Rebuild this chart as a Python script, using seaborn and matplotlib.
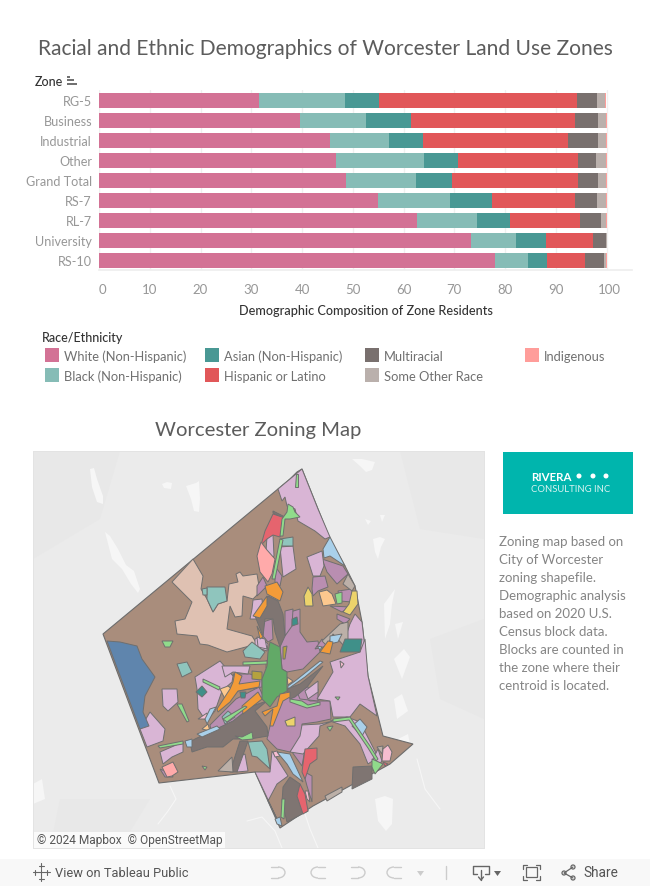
import numpy as np
import pandas as pd
import matplotlib
matplotlib.use("Agg")
import matplotlib.pyplot as plt
from matplotlib.patches import Rectangle, Circle, Arc
from matplotlib.transforms import ScaledTranslation
import seaborn as sns

# chart data, percent of residents
zones = ["RG-5", "Business", "Industrial", "Other", "Grand Total", "RS-7", "RL-7", "University", "RS-10"]
races = ["White (Non-Hispanic)", "Black (Non-Hispanic)", "Asian (Non-Hispanic)", "Hispanic or Latino",
         "Multiracial", "Some Other Race", "Indigenous"]
white = [31.6, 39.6, 45.6, 46.7, 48.7, 55.0, 62.7, 73.2, 78.1]
black = [16.9, 12.9, 11.6, 17.4, 13.8, 14.2, 11.7, 9.0, 6.5]
asian = [6.7, 9.0, 6.7, 6.7, 7.1, 8.3, 6.5, 5.8, 3.6]
hispanic = [38.9, 32.2, 28.4, 23.5, 24.7, 16.2, 13.8, 9.4, 7.5]
multiracial = [4.1, 4.7, 6.1, 3.7, 4.1, 4.5, 4.1, 2.4, 3.7]
some_other = [1.4, 1.4, 1.4, 1.8, 1.5, 1.6, 1.1, 0.2, 0.5]
indigenous = [0.2, 0.2, 0.2, 0.2, 0.1, 0.2, 0.1, 0.0, 0.1]
palette = ["#d37295", "#86bcb6", "#499894", "#e15759", "#79706e", "#bab0ac", "#ff9d9a"]
x_ticks = [0, 10, 20, 30, 40, 50, 60, 70, 80, 90, 100]

note_lines = ["Zoning map based on", "City of Worcester", "zoning shapefile.", "Demographic analysis",
              "based on 2020 U.S.", "Census block data.", "Blocks are counted in", "the zone where their",
              "centroid is located."]

# map outlines, traced in map grid units
city = [(302, 470), (318, 510), (330, 540), (345, 567), (355, 587), (362, 623), (365, 650), (368, 677),
        (378, 717), (383, 737), (413, 745), (390, 765), (313, 807), (280, 829), (255, 773), (159, 784),
        (121, 683), (103, 635), (290, 480), (297, 473)]
peach = [[(193, 560), (203, 577), (201, 590), (207, 600), (213, 613), (218, 605), (227, 602), (229, 585), (238, 583),
          (236, 575), (240, 573), (243, 577), (257, 575), (260, 593), (253, 600), (243, 597), (242, 617), (235, 618), (230, 607), (227, 630),
          (252, 637), (257, 645), (227, 653), (208, 646), (200, 645), (197, 637), (177, 635), (175, 622), (185, 620),
          (192, 603), (172, 583)]]
steel = [[(107, 642), (120, 643), (137, 647), (142, 660), (155, 678), (145, 697), (143, 713), (149, 727), (140, 730), (125, 690)]]
mauve = [[(285, 630), (290, 613), (300, 610), (300, 633), (307, 643), (318, 642), (320, 653), (303, 670), (287, 673), (282, 670), (280, 647)],
         [(267, 740), (270, 727), (283, 700), (297, 693), (310, 702), (330, 702), (331, 720), (317, 723), (302, 725), (303, 737), (290, 753), (277, 750)],
         [(210, 726), (220, 716), (236, 700), (259, 688), (263, 697), (255, 705), (250, 712), (240, 720), (232, 728), (225, 735), (212, 737)],
         [(263, 623), (272, 620), (273, 640), (268, 643), (263, 637)],
         [(275, 567), (282, 577), (280, 587), (275, 583)],
         [(263, 578), (267, 587), (257, 597), (257, 587)],
         [(313, 578), (325, 577), (328, 588), (318, 592), (313, 597), (312, 590)],
         [(322, 560), (343, 567), (348, 575), (337, 585), (327, 573)],
         [(338, 592), (352, 590), (352, 603), (340, 602)],
         [(330, 607), (350, 608), (342, 613)],
         [(337, 615), (350, 620), (345, 625), (337, 620)],
         [(292, 753), (305, 750), (302, 767)],
         [(165, 778), (160, 770), (172, 775), (173, 778)],
         [(303, 772), (312, 777), (312, 803), (307, 787)],
         [(285, 612), (293, 610), (292, 627), (285, 637)],
         [(322, 640), (327, 647), (315, 650)],
         [(233, 675), (250, 675), (262, 680), (262, 688), (238, 692), (235, 680)],
         [(297, 693), (307, 688), (318, 690), (318, 702), (300, 700)]]
light_purple = [[(278, 490), (302, 470), (318, 510), (330, 538), (325, 540), (315, 532), (298, 522), (295, 510), (287, 507), (285, 498), (282, 502)],
                [(280, 548), (293, 547), (296, 570), (283, 578)],
                [(307, 558), (322, 552), (324, 567), (320, 577), (313, 577)],
                [(267, 538), (273, 536), (274, 557), (270, 560), (266, 552)],
                [(355, 615), (362, 623), (365, 650), (345, 640), (350, 625)],
                [(330, 663), (360, 653), (365, 640), (368, 677), (377, 717), (360, 705), (350, 718), (333, 718), (330, 702), (317, 700), (333, 673)],
                [(290, 753), (300, 737), (302, 726), (320, 725), (333, 722), (320, 727), (319, 737), (303, 755)],
                [(330, 722), (347, 718), (360, 723), (378, 758), (368, 765), (360, 745), (345, 727)],
                [(255, 773), (270, 773), (272, 752), (288, 777), (277, 785), (268, 802), (278, 822)],
                [(140, 730), (150, 713), (165, 730), (163, 742), (147, 748)],
                [(162, 690), (177, 690), (178, 703), (168, 712), (163, 707)],
                [(160, 753), (183, 743), (183, 753), (172, 758), (163, 765)],
                [(195, 678), (220, 662), (233, 677), (232, 683), (222, 692), (215, 712), (206, 722), (198, 710), (197, 690)],
                [(222, 667), (250, 667), (248, 675), (233, 673), (225, 678)],
                [(255, 640), (260, 638), (268, 645), (267, 652), (255, 648)],
                [(305, 692), (318, 682), (318, 693), (308, 700)],
                [(238, 758), (245, 755), (248, 772), (237, 773)],
                [(253, 601), (262, 600), (263, 612), (258, 620), (250, 620), (252, 610)],
                [(257, 638), (265, 640), (267, 650), (258, 648)],
                [(373, 760), (378, 750), (382, 762), (373, 772)]]
grey = [[(268, 597), (278, 602), (283, 615), (285, 637), (280, 648), (275, 633), (273, 620), (265, 620), (263, 637), (255, 617)],
        [(287, 690), (300, 685), (323, 667), (307, 688), (295, 698), (290, 700)],
        [(190, 743), (195, 740), (233, 722), (252, 707), (267, 702), (255, 712), (267, 728), (268, 737), (250, 740), (233, 740), (223, 748), (207, 748), (192, 753)],
        [(240, 742), (248, 742), (237, 773), (230, 773)],
        [(290, 778), (300, 785), (308, 812), (287, 823), (282, 803), (283, 788)],
        [(353, 768), (372, 767), (372, 780), (352, 790)],
        [(273, 512), (285, 518), (284, 520), (273, 514)]]
light_grey = [[(343, 585), (348, 575), (355, 587), (352, 592)],
              [(322, 642), (340, 625), (348, 623), (348, 642), (345, 648), (333, 635), (327, 647)],
              [(218, 772), (232, 758), (233, 773)],
              [(377, 748), (383, 747), (382, 755)],
              [(325, 797), (342, 788), (342, 793), (327, 802)]]
teal = [[(207, 588), (225, 588), (227, 602), (218, 605), (213, 613), (207, 600)],
        [(243, 652), (252, 643), (265, 653), (260, 660), (245, 658)],
        [(177, 665), (187, 663), (192, 673), (182, 678)],
        [(248, 743), (262, 742), (267, 750), (270, 770), (257, 758), (252, 757)],
        [(280, 540), (293, 538), (293, 547), (282, 547)],
        [(222, 718), (228, 712), (235, 718), (225, 725)],
        [(202, 590), (207, 589), (207, 596), (203, 596)]]
dark_teal = [[(196, 693), (202, 687), (207, 693), (202, 698)],
             [(340, 653), (345, 640), (362, 640), (360, 653)],
             [(292, 620), (297, 618), (298, 625), (292, 627)],
             [(240, 693), (246, 693), (245, 699), (241, 699)]]
orange = [[(265, 587), (277, 583), (283, 593), (280, 602), (267, 595)],
          [(267, 597), (253, 617), (260, 619), (267, 607)],
          [(257, 627), (263, 638), (260, 640)],
          [(230, 690), (233, 683), (235, 673), (242, 677), (239, 685), (260, 682), (259, 688), (238, 692), (230, 703), (218, 713), (217, 710)],
          [(242, 707), (258, 693), (262, 700), (243, 715)],
          [(262, 713), (277, 707), (280, 695), (290, 693), (290, 698), (283, 702), (273, 727), (270, 727), (273, 710), (265, 717)],
          [(320, 653), (328, 642), (333, 643), (330, 655)]]
light_orange = [[(319, 593), (327, 591), (332, 595), (336, 605), (323, 607)],
                [(220, 690), (228, 687), (232, 690), (225, 700)],
                [(287, 678), (293, 682), (288, 686)],
                [(202, 730), (208, 725), (210, 732)]]
yellow = [[(304, 597), (308, 588), (312, 595), (313, 607), (305, 607)],
          [(352, 592), (357, 592), (358, 605), (350, 616), (343, 613), (349, 605)],
          [(285, 722), (295, 718), (295, 727), (287, 727)]]
olive = [[(252, 672), (262, 673), (262, 681), (252, 680)],
         [(283, 648), (287, 647), (285, 660), (283, 660)],
         [(266, 662), (270, 660), (270, 670), (266, 669)]]
red = [[(273, 515), (285, 519), (280, 538), (273, 536), (267, 540), (261, 546), (265, 532)],
       [(305, 750), (317, 749), (317, 760), (310, 765), (305, 780), (302, 773), (303, 765)],
       [(300, 785), (305, 795), (308, 812), (303, 815), (297, 797)],
       [(383, 763), (388, 765), (385, 767)]]
pink = [[(261, 543), (267, 551), (275, 560), (272, 575), (268, 583), (260, 573), (257, 557)],
        [(162, 768), (173, 763), (178, 773), (172, 777), (167, 778)]]
light_pink = [[(383, 750), (388, 746), (392, 753), (390, 762), (382, 762)],
              [(273, 753), (277, 752), (280, 757), (275, 758)],
              [(305, 792), (308, 792), (310, 803), (307, 800)],
              [(340, 662), (344, 665), (341, 669)],
              [(198, 720), (207, 714), (208, 720)]]
light_blue = [[(323, 550), (330, 538), (345, 567), (330, 557), (324, 559)],
              [(352, 727), (360, 720), (367, 728), (362, 737)],
              [(277, 753), (290, 755), (303, 783), (293, 775), (287, 765)],
              [(280, 818), (282, 827), (277, 825), (275, 820)],
              [(185, 742), (192, 740), (192, 748), (187, 748)],
              [(210, 710), (216, 708), (207, 725), (205, 720)],
              [(197, 735), (217, 727), (220, 730), (202, 738)],
              [(288, 687), (295, 682), (320, 662), (323, 663), (305, 678), (288, 690)],
              [(330, 637), (342, 635), (338, 643), (330, 645)],
              [(317, 647), (322, 648), (320, 651)]]
green = [[(270, 643), (280, 648), (282, 670), (287, 673), (287, 692), (277, 698), (270, 708), (262, 700), (262, 680), (267, 667), (268, 653)]]
light_green = [[(288, 505), (293, 508), (295, 513), (300, 518), (290, 520), (285, 520), (283, 537), (280, 537), (282, 520), (287, 513)],
               [(296, 475), (298, 475), (298, 488), (295, 488)],
               [(280, 540), (283, 541), (275, 580), (272, 580)],
               [(177, 705), (182, 705), (189, 722), (187, 723)],
               [(158, 747), (183, 742), (183, 745), (160, 749)],
               [(223, 720), (245, 707), (247, 708), (227, 723)],
               [(290, 700), (302, 702), (308, 706), (320, 703), (320, 706), (307, 709), (290, 703)],
               [(327, 728), (333, 727), (330, 732)],
               [(333, 720), (350, 718), (370, 747), (378, 760), (376, 762), (368, 749), (349, 721), (333, 723)],
               [(372, 760), (383, 765), (375, 775), (372, 768)],
               [(203, 680), (220, 688), (219, 691), (203, 683)],
               [(335, 595), (342, 593), (342, 604), (337, 605)],
               [(335, 698), (340, 698), (338, 701)],
               [(282, 800), (285, 800), (284, 820), (281, 818)],
               [(235, 737), (242, 738), (252, 733), (253, 740), (242, 741)],
               [(202, 767), (207, 768), (205, 771)],
               [(162, 642), (173, 642), (170, 648), (165, 648)],
               [(243, 663), (267, 662), (267, 665), (243, 666)]]
zone_layers = [(peach, "#dfc1b2"), (mauve, "#b98eb1"), (light_purple, "#d9b5d5"), (grey, "#7f7572"),
               (light_grey, "#bcb0a8"), (teal, "#8fc5bd"), (dark_teal, "#3f9089"), (light_orange, "#fcc88e"),
               (yellow, "#ecd36b"), (olive, "#b5a23e"), (red, "#e5646e"), (pink, "#ffaaaa"),
               (light_pink, "#f7bdd0"), (light_blue, "#a9d0ea"), (steel, "#5f85ad"), (green, "#62a967"),
               (orange, "#f39b38"), (light_green, "#90db8b")]
water = [[(90, 470), (94, 469), (97, 480), (103, 497), (103, 505), (97, 503), (92, 488)],
         [(105, 533), (110, 537), (118, 550), (126, 566), (134, 572), (140, 590), (138, 594), (131, 585), (122, 570), (112, 560)],
         [(186, 487), (196, 484), (199, 482), (200, 500), (199, 513), (194, 512), (191, 500)],
         [(162, 485), (167, 483), (172, 484), (171, 490), (164, 489)],
         [(352, 460), (362, 460), (375, 463), (372, 471), (366, 473), (360, 467)],
         [(365, 520), (371, 522), (368, 526)], [(380, 516), (385, 516), (382, 523)],
         [(373, 540), (380, 538), (385, 540), (381, 548), (378, 560), (375, 553)],
         [(384, 605), (395, 590), (392, 605), (390, 625), (385, 640)],
         [(395, 625), (403, 623), (398, 640)], [(394, 660), (404, 650), (410, 658), (402, 680)],
         [(375, 800), (385, 797), (393, 800), (392, 825), (386, 832), (378, 822)],
         [(33, 785), (42, 780), (45, 800), (33, 805)],
         [(394, 700), (402, 695), (408, 712), (397, 720)], [(398, 740), (408, 735), (410, 745), (400, 748)]]
rivers = [[(170, 787), (176, 800), (168, 812), (158, 825)], [(247, 822), (262, 818), (275, 832), (282, 849)],
          [(305, 815), (310, 830), (318, 849)], [(417, 760), (425, 790), (440, 810)]]
land = [[(33, 452), (120, 452), (100, 520), (33, 560)], [(400, 452), (484, 452), (484, 540), (420, 530)],
        [(430, 640), (484, 620), (484, 720), (440, 700)], [(60, 800), (150, 800), (120, 849), (50, 849)]]

sns.set_theme(style="white")
plt.rcParams["font.family"] = ["Lato", "DejaVu Sans"]

stack = np.cumsum([white, black, asian, hispanic, multiracial, some_other, indigenous], axis=0)
long_rows = []
for race, ends in zip(races, stack):
    long_rows.append(pd.DataFrame({"zone": zones, "race": race, "end": ends}))
long_df = pd.concat(long_rows)

fig = plt.figure(figsize=(6.5, 8.87), dpi=100, facecolor="white")

# page layer in pixels, for titles, legend and the toolbar
page = fig.add_axes([0, 0, 1, 1])
page.set_xlim(0, 650)
page.set_ylim(887, 0)
page.axis("off")

ax = fig.add_axes([99 / 650, 1 - 271 / 887, 533 / 650, 180 / 887])
sns.barplot(data=long_df, y="zone", x="end", hue="race", order=zones, hue_order=races[::-1],
            palette=palette[::-1], dodge=False, width=0.75, saturation=1, legend=False, linewidth=0, ax=ax)
ax.set_xlim(0, 105)
ax.set_ylim(8.5, -0.5)
ax.set_xticks(x_ticks)
ax.set_ylabel("")
ax.set_xlabel("Demographic Composition of Zone Residents", fontsize=9.05, color="#333333", labelpad=7, fontweight="medium")
ax.xaxis.grid(True, color="#f0f0f0", lw=1)
ax.set_axisbelow(True)
sns.despine(ax=ax, left=True)
ax.spines["bottom"].set_color("#eeeeee")
ax.tick_params(axis="x", length=5, color="#eeeeee", labelsize=9.5, labelcolor="#979797", pad=4)
ax.tick_params(axis="y", length=0, labelsize=9.1, labelcolor="#979797", pad=5)
ax.get_xticklabels()[0].set_ha("left")
last_label = ax.get_xticklabels()[-1]
last_label.set_transform(last_label.get_transform() + ScaledTranslation(3 / 100, 0, fig.dpi_scale_trans))
ax.patch.set_alpha(0)

page.text(325.5, 49, "Racial and Ethnic Demographics of Worcester Land Use Zones", fontsize=15.15,
          color="#5c5c5c", ha="center", va="center")
page.text(35, 82, "Zone", fontsize=9, color="#333333", va="center", fontweight="medium")
for y, x1 in zip([77.5, 81, 84.5], [70, 74, 77]):
    page.plot([67, x1], [y, y], color="#555555", lw=1.2, solid_capstyle="butt")

page.text(42, 338, "Race/Ethnicity", fontsize=9, color="#333333", va="center", fontweight="medium")
legend_cols = [45, 205, 365, 525]
for i, (race, col) in enumerate(zip(races, palette)):
    lx = legend_cols[i // 2]
    ly = 356 + 20 * (i % 2)
    page.add_patch(Rectangle((lx, ly - 7), 14, 14, facecolor=col, edgecolor="none"))
    page.text(lx + 19, ly + 1, race, fontsize=9.3, color="#707070", va="center")

page.text(258, 431, "Worcester Zoning Map", fontsize=14.6, color="#5c5c5c", ha="center", va="center")

# logo and note
page.add_patch(Rectangle((503, 453), 130, 62, facecolor="#00b5ad", edgecolor="none"))
page.text(531, 478, "RIVERA", fontsize=8.3, color="white", va="center", fontweight="bold")
for dot_x in [579, 593, 606]:
    page.add_patch(Circle((dot_x, 477), 2.5, facecolor="white", edgecolor="none"))
page.text(531, 489.5, "CONSULTING INC", fontsize=6.8, color="#d8f3f1", va="center")
for i, line in enumerate(note_lines):
    page.text(499, 542 + 18 * i, line, fontsize=9.5, color="#858585", va="center")

# map panel
mp = fig.add_axes([33 / 650, 1 - 849 / 887, 451 / 650, 397 / 887])
mp.set_xlim(33, 484)
mp.set_ylim(849, 452)
mp.set_facecolor("#ebebeb")
mp.set_xticks([])
mp.set_yticks([])
for spine in mp.spines.values():
    spine.set_color("#e3e3e3")
    spine.set_linewidth(0.7)
for poly in land:
    xs, ys = zip(*poly)
    mp.fill(xs, ys, color="#e8e8e8", lw=0)
for poly in water:
    xs, ys = zip(*poly)
    mp.fill(xs, ys, color="#f6f6f6", lw=0)
for line in rivers:
    xs, ys = zip(*line)
    mp.plot(xs, ys, color="#f6f6f6", lw=0.8)
xs, ys = zip(*city)
mp.fill(xs, ys, facecolor="#a98d7c", edgecolor="#6c6c6c", lw=0.8)
for polys, col in zone_layers:
    for poly in polys:
        xs, ys = zip(*poly)
        mp.fill(xs, ys, facecolor=col, edgecolor="#6f6f6f", lw=0.7)
mp.add_patch(Rectangle((33, 833), 192, 16, facecolor="white", alpha=0.8, edgecolor="none"))
mp.text(37, 841, "© 2024 Mapbox  © OpenStreetMap", fontsize=8.55, color="#555555", va="center",
        family=["Roboto", "DejaVu Sans"])

# toolbar
page.add_patch(Rectangle((0, 860), 650, 27, facecolor="#f8f8f8", edgecolor="none"))
toolbar = fig.add_axes([0, 0, 1, 1])
toolbar.set_xlim(0, 650)
toolbar.set_ylim(887, 0)
toolbar.axis("off")
toolbar.text(55, 873.5, "View on Tableau Public", fontsize=9.3, color="#555555", va="center",
             family=["Roboto", "DejaVu Sans"])
toolbar.text(583, 873.5, "Share", fontsize=9.8, color="#555555", va="center", family=["Roboto", "DejaVu Sans"])
for cx, cy, r in [(41, 867, 2.5), (41, 880, 2.5), (35, 873.5, 2.5), (47, 873.5, 2.5), (41, 873.5, 3.5)]:
    toolbar.plot([cx - r, cx + r], [cy, cy], color="#666666", lw=0.8)
    toolbar.plot([cx, cx], [cy - r, cy + r], color="#666666", lw=0.8)
for x0, flip in [(270, 1), (310, -1), (350, 1), (386, -1)]:
    cx = x0 + 8
    toolbar.add_patch(Arc((cx, 873.5), 14, 11, theta1=-90 if flip == 1 else 90, theta2=90 if flip == 1 else 270,
                          color="#cccccc", lw=1))
    toolbar.plot([cx - 7 * flip, cx], [868, 868], color="#cccccc", lw=1)
    toolbar.plot([cx - 7 * flip, cx], [879, 879], color="#cccccc", lw=1)
toolbar.fill([417, 424, 420.5], [872, 872, 877], color="#cccccc", lw=0)
toolbar.plot([446, 446], [867, 880], color="#cccccc", lw=1)
toolbar.plot([477, 473, 473, 489, 489, 485], [875, 875, 867, 867, 875, 875], color="#666666", lw=1)
toolbar.plot([481, 481], [871, 881], color="#666666", lw=1)
toolbar.plot([478.5, 481, 483.5], [878, 881, 878], color="#666666", lw=1)
toolbar.fill([494, 501, 497.5], [872, 872, 877], color="#666666", lw=0)
toolbar.add_patch(Rectangle((526, 868.5), 11, 10, facecolor="none", edgecolor="#666666", lw=0.9))
toolbar.plot([523, 523, 527], [870, 866, 866], color="#666666", lw=0.9)
toolbar.plot([536, 540, 540], [866, 866, 870], color="#666666", lw=0.9)
toolbar.plot([523, 523, 527], [877, 881, 881], color="#666666", lw=0.9)
toolbar.plot([536, 540, 540], [881, 881, 877], color="#666666", lw=0.9)
toolbar.plot([573, 564, 573], [868, 874, 879], color="#666666", lw=0.9)
for cx, cy in [(573, 868), (564, 874), (573, 879)]:
    toolbar.add_patch(Circle((cx, cy), 2, facecolor="#f8f8f8", edgecolor="#666666", lw=0.9))

fig.savefig("out.png", dpi=100)
